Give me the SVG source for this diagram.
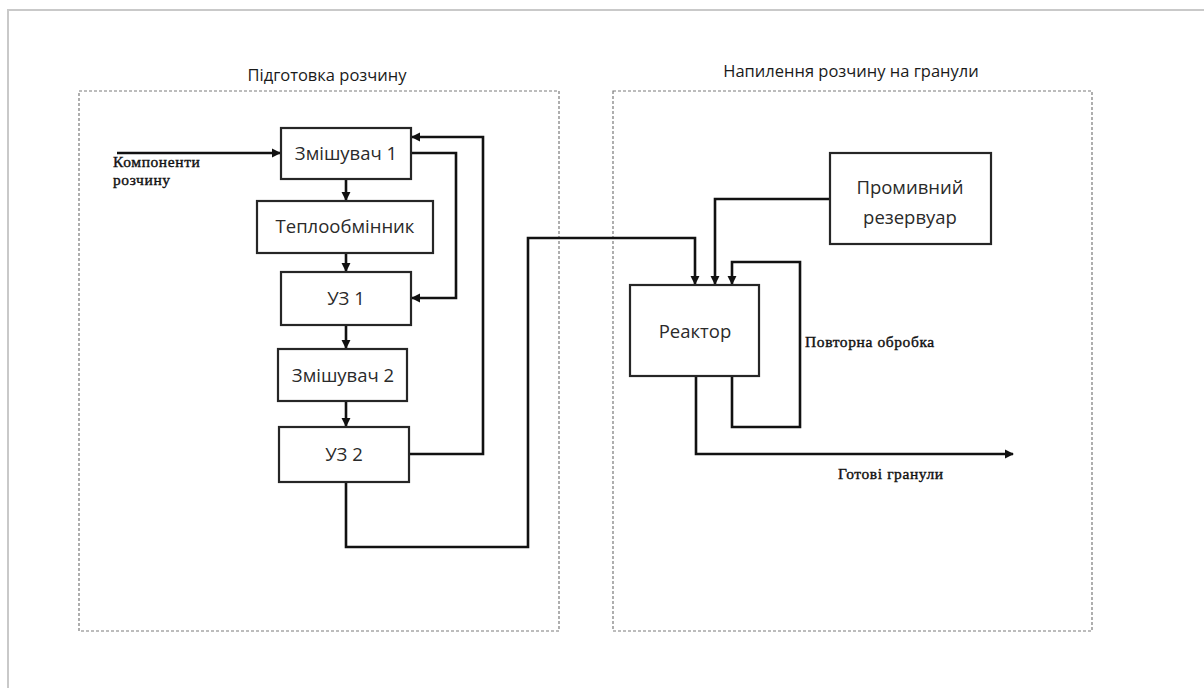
<svg xmlns="http://www.w3.org/2000/svg" width="1204" height="688" viewBox="0 0 1204 688">
  <style>
    .frame { fill: none; stroke: #c9c9c9; stroke-width: 2; }
    .area { fill: none; stroke: #7a7a7a; stroke-width: 1.2; stroke-dasharray: 3 2; }
    .box { fill: #ffffff; stroke: #262626; stroke-width: 2.2; }
    .wire { fill: none; stroke: #111111; stroke-width: 2.6; stroke-linejoin: miter; }
    .lbl { font-family: "Open Sans", "Noto Sans", "DejaVu Sans", sans-serif; font-size: 18.5px; fill: #2a2a2a; text-anchor: middle; }
    .title { font-family: "Open Sans", "Noto Sans", "DejaVu Sans", sans-serif; font-size: 16.5px; fill: #1a1a1a; text-anchor: middle; }
    .note { font-family: "Liberation Serif", "DejaVu Serif", serif; font-size: 15.5px; letter-spacing: 0.6px; fill: #111111; stroke: #111111; stroke-width: 0.4; }
  </style>
  <defs>
    <marker id="arrow" viewBox="0 0 10 10" refX="9" refY="5" markerWidth="3.6" markerHeight="3.6" orient="auto" markerUnits="strokeWidth">
      <path d="M0,0 L10,5 L0,10 z" fill="#111111"/>
    </marker>
  </defs>

  <rect width="1204" height="688" fill="#ffffff"/>
  <path class="frame" d="M8,688 V10 H1204"/>

  <!-- process areas -->
  <g id="area-prep">
    <rect class="area" x="79" y="91" width="480" height="540"/>
    <text class="title" x="327" y="81">Підготовка розчину</text>
  </g>
  <g id="area-spray">
    <rect class="area" x="613" y="91" width="479" height="540"/>
    <text class="title" x="851" y="77">Напилення розчину на гранули</text>
  </g>

  <!-- connectors -->
  <g id="connectors">
    <path class="wire" d="M117,153 H280" marker-end="url(#arrow)"/>
    <path class="wire" d="M346,180 V200" marker-end="url(#arrow)"/>
    <path class="wire" d="M346,254 V271" marker-end="url(#arrow)"/>
    <path class="wire" d="M346,326 V348" marker-end="url(#arrow)"/>
    <path class="wire" d="M346,402 V426" marker-end="url(#arrow)"/>
    <path class="wire" d="M412,153 H456 V298 H412" marker-end="url(#arrow)"/>
    <path class="wire" d="M410,454 H483 V137 H412" marker-end="url(#arrow)"/>
    <path class="wire" d="M346,483 V547 H528 V238 H695 V284" marker-end="url(#arrow)"/>
    <path class="wire" d="M829,199 H715 V284" marker-end="url(#arrow)"/>
    <path class="wire" d="M732,377 V427 H800 V262 H732 V284" marker-end="url(#arrow)"/>
    <path class="wire" d="M696,377 V454 H1013" marker-end="url(#arrow)"/>
    <text class="note" x="113" y="167">Компоненти</text>
    <text class="note" x="113" y="185">розчину</text>
    <text class="note" x="805" y="347">Повторна обробка</text>
    <text class="note" x="838" y="479">Готові гранули</text>
  </g>

  <!-- nodes -->
  <g id="mixer1">
    <rect class="box" x="281" y="128" width="130" height="51"/>
    <text class="lbl" x="346" y="160">Змішувач 1</text>
  </g>
  <g id="heat-exchanger">
    <rect class="box" x="257" y="201" width="176" height="52"/>
    <text class="lbl" x="345" y="233">Теплообмінник</text>
  </g>
  <g id="us1">
    <rect class="box" x="281" y="272" width="130" height="53"/>
    <text class="lbl" x="346" y="305">УЗ 1</text>
  </g>
  <g id="mixer2">
    <rect class="box" x="278" y="349" width="129" height="52"/>
    <text class="lbl" x="343" y="382">Змішувач 2</text>
  </g>
  <g id="us2">
    <rect class="box" x="279" y="427" width="130" height="55"/>
    <text class="lbl" x="344" y="461">УЗ 2</text>
  </g>
  <g id="reactor">
    <rect class="box" x="630" y="285" width="129" height="91"/>
    <text class="lbl" x="695" y="338">Реактор</text>
  </g>
  <g id="wash-tank">
    <rect class="box" x="830" y="153" width="161" height="91"/>
    <text class="lbl" x="910" y="194">Промивний</text>
    <text class="lbl" x="910" y="224">резервуар</text>
  </g>
</svg>
